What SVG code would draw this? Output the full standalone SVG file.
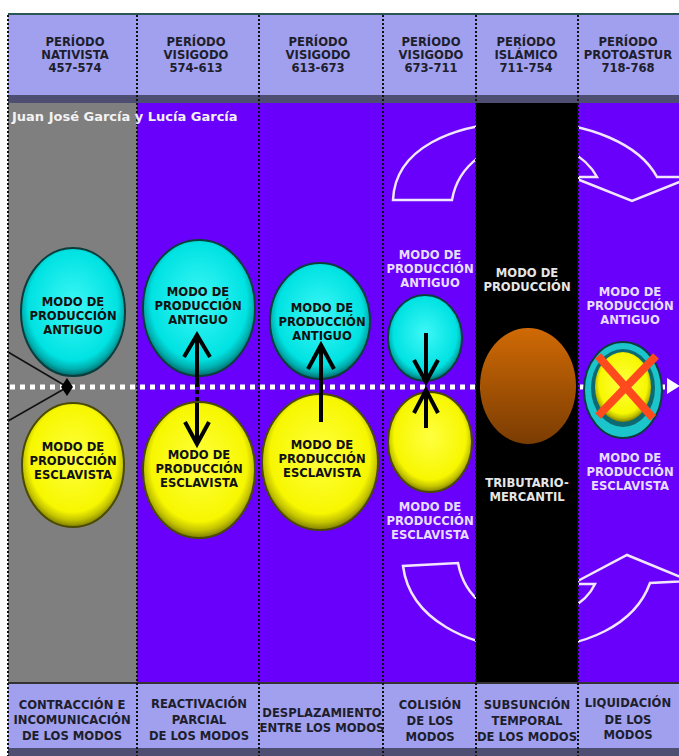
<svg xmlns="http://www.w3.org/2000/svg" width="679" height="756" viewBox="0 0 679 756">
<defs>
<radialGradient id="gCyan" cx="50%" cy="45%" r="55%">
<stop offset="0" stop-color="#3ff7f7"/><stop offset="0.78" stop-color="#00e2e2"/><stop offset="0.9" stop-color="#00b0b0"/><stop offset="1" stop-color="#006a6a"/>
</radialGradient>
<radialGradient id="gYel" cx="50%" cy="45%" r="55%">
<stop offset="0" stop-color="#ffff40"/><stop offset="0.78" stop-color="#f7f700"/><stop offset="0.9" stop-color="#c4c400"/><stop offset="1" stop-color="#7e7e00"/>
</radialGradient>
<linearGradient id="gBrown" x1="0" y1="0" x2="0" y2="1">
<stop offset="0" stop-color="#d06a05"/><stop offset="1" stop-color="#7a3c02"/>
</linearGradient>
<style>
.t{font-family:"DejaVu Sans",Verdana,sans-serif;font-weight:bold;font-size:11.6px;text-anchor:middle}
.hd{fill:#1e1e2c}
.bk{fill:#111}
.lt{fill:#e9ddff}
.wt{fill:#e6e6e6}
.sep{stroke:#111;stroke-width:2;stroke-dasharray:2 2}
.cy{fill:url(#gCyan);stroke:#0b3d3d;stroke-width:2}
.ye{fill:url(#gYel);stroke:#4a4a00;stroke-width:2}
.ar{stroke:#000;stroke-width:4;fill:none;stroke-linejoin:miter}
.cu{fill:none;stroke:#f2e6ff;stroke-width:2.5;stroke-linejoin:miter}
</style>
</defs>
<rect x="0" y="0" width="679" height="756" fill="#fff"/>
<!-- content backgrounds -->
<rect x="8" y="103" width="129" height="580" fill="#7f7f7f"/>
<rect x="137" y="103" width="542" height="580" fill="#6800fc"/>
<!-- curved arrows (behind black column) -->
<path class="cu" d="M393,200 C395,150 450,122 527,122 C590,122 640,145 657,177 L692,177 L632,201 L572,177 L597,177 C585,155 560,142 527,142 C490,142 458,165 452,200 Z"/>
<path class="cu" d="M403,566 C410,620 470,648 527,648 C585,648 635,625 650,583 L690,581 L627,555 L572,584 L595,584 C585,605 560,618 527,618 C495,618 465,600 458,563 Z"/>
<rect x="476" y="103" width="102" height="580" fill="#000"/>
<!-- header -->
<rect x="8" y="13" width="671" height="2" fill="#2a5656"/>
<rect x="8" y="15" width="671" height="80" fill="#a0a0ef"/>
<rect x="8" y="95" width="671" height="8" fill="#4e4e72"/>
<!-- footer -->
<rect x="8" y="682" width="671" height="2" fill="#333"/>
<rect x="8" y="684" width="671" height="64" fill="#a0a0ef"/>
<rect x="8" y="748" width="671" height="8" fill="#4e4e72"/>
<!-- separators -->
<g>
<line class="sep" x1="8" y1="15" x2="8" y2="756"/>
<line class="sep" x1="137" y1="15" x2="137" y2="756"/>
<line class="sep" x1="259" y1="15" x2="259" y2="756"/>
<line class="sep" x1="383" y1="15" x2="383" y2="756"/>
<line class="sep" x1="476" y1="15" x2="476" y2="756"/>
<line class="sep" x1="578" y1="15" x2="578" y2="756"/>
</g>
<!-- header texts -->
<g id="h1" class="t hd"><text x="75" y="46">PERÍODO</text><text x="75" y="59">NATIVISTA</text><text x="75" y="72">457-574</text></g>
<g id="h2" class="t hd"><text x="196" y="46">PERÍODO</text><text x="196" y="59">VISIGODO</text><text x="196" y="72">574-613</text></g>
<g id="h3" class="t hd"><text x="318" y="46">PERÍODO</text><text x="318" y="59">VISIGODO</text><text x="318" y="72">613-673</text></g>
<g id="h4" class="t hd"><text x="431" y="46">PERÍODO</text><text x="431" y="59">VISIGODO</text><text x="431" y="72">673-711</text></g>
<g id="h5" class="t hd"><text x="526" y="46">PERÍODO</text><text x="526" y="59">ISLÁMICO</text><text x="526" y="72">711-754</text></g>
<g id="h6" class="t hd"><text x="628" y="46">PERÍODO</text><text x="628" y="59">PROTOASTUR</text><text x="628" y="72">718-768</text></g>
<!-- footer texts -->
<g id="f1" class="t hd"><text x="72" y="709">CONTRACCIÓN E</text><text x="72" y="724">INCOMUNICACIÓN</text><text x="72" y="740">DE LOS MODOS</text></g>
<g id="f2" class="t hd"><text x="199" y="708">REACTIVACIÓN</text><text x="199" y="724">PARCIAL</text><text x="199" y="740">DE LOS MODOS</text></g>
<g id="f3" class="t hd"><text x="322" y="717">DESPLAZAMIENTO</text><text x="322" y="732">ENTRE LOS MODOS</text></g>
<g id="f4" class="t hd"><text x="430" y="709">COLISIÓN</text><text x="430" y="725">DE LOS</text><text x="430" y="741">MODOS</text></g>
<g id="f5" class="t hd"><text x="527" y="709">SUBSUNCIÓN</text><text x="527" y="725">TEMPORAL</text><text x="527" y="741">DE LOS MODOS</text></g>
<g id="f6" class="t hd"><text x="628" y="707">LIQUIDACIÓN</text><text x="628" y="724">DE LOS</text><text x="628" y="739">MODOS</text></g>
<!-- title -->
<text x="12" y="121" font-family="'DejaVu Sans',Verdana,sans-serif" font-weight="bold" font-size="13" fill="#f2f2f2">Juan José García y Lucía García</text>
<!-- dotted axis -->
<line x1="10" y1="387" x2="666" y2="387" stroke="#fff" stroke-width="5" stroke-dasharray="5 5"/>
<polygon points="667,378 680,386 667,394" fill="#fff"/>
<!-- column 1 -->
<g id="c1a"><ellipse class="cy" cx="73" cy="312" rx="52" ry="64"/><g class="t bk"><text x="73" y="306">MODO DE</text><text x="73" y="320">PRODUCCIÓN</text><text x="73" y="334">ANTIGUO</text></g></g>
<g id="c1b"><ellipse class="ye" cx="73" cy="465" rx="51" ry="62"/><g class="t bk"><text x="73" y="451">MODO DE</text><text x="73" y="465">PRODUCCIÓN</text><text x="73" y="479">ESCLAVISTA</text></g></g>
<!-- column 2 -->
<g id="c2a"><ellipse class="cy" cx="199" cy="308" rx="56" ry="68"/><g class="t bk"><text x="198" y="296">MODO DE</text><text x="198" y="310">PRODUCCIÓN</text><text x="198" y="324">ANTIGUO</text></g></g>
<g id="c2b"><ellipse class="ye" cx="199" cy="470" rx="56" ry="68"/><g class="t bk"><text x="199" y="459">MODO DE</text><text x="199" y="473">PRODUCCIÓN</text><text x="199" y="487">ESCLAVISTA</text></g></g>
<!-- column 3 -->
<g id="c3a"><ellipse class="cy" cx="320" cy="321" rx="50" ry="58"/><g class="t bk"><text x="322" y="312">MODO DE</text><text x="322" y="326">PRODUCCIÓN</text><text x="322" y="340">ANTIGUO</text></g></g>
<g id="c3b"><ellipse class="ye" cx="320" cy="462" rx="58" ry="68"/><g class="t bk"><text x="322" y="449">MODO DE</text><text x="322" y="463">PRODUCCIÓN</text><text x="322" y="477">ESCLAVISTA</text></g></g>
<!-- column 4 -->
<g id="c4a"><ellipse class="cy" cx="425" cy="338" rx="37" ry="43"/><g class="t lt"><text x="430" y="259">MODO DE</text><text x="430" y="273">PRODUCCIÓN</text><text x="430" y="287">ANTIGUO</text></g></g>
<g id="c4b"><ellipse class="ye" cx="430" cy="442" rx="42" ry="50"/><g class="t lt"><text x="430" y="511">MODO DE</text><text x="430" y="525">PRODUCCIÓN</text><text x="430" y="539">ESCLAVISTA</text></g></g>
<!-- column 5 -->
<g id="c5"><ellipse cx="528" cy="386" rx="48" ry="58" fill="url(#gBrown)"/><g class="t wt"><text x="527" y="277">MODO DE</text><text x="527" y="291">PRODUCCIÓN</text><text x="527" y="487">TRIBUTARIO-</text><text x="527" y="501">MERCANTIL</text></g></g>
<!-- column 6 -->
<g id="c6"><ellipse cx="623" cy="390" rx="39" ry="48" fill="#1cc4cc" stroke="#0b3d3d" stroke-width="2"/><ellipse cx="623" cy="388" rx="32" ry="39" fill="#0d6a70"/><ellipse cx="623" cy="387" rx="28" ry="35" fill="url(#gYel)" stroke="none"/>
<g stroke="#ff4a1e" stroke-width="8" stroke-linecap="butt"><line x1="598" y1="356" x2="653" y2="418"/><line x1="656" y1="356" x2="598" y2="416"/></g>
<g class="t lt"><text x="630" y="296">MODO DE</text><text x="630" y="310">PRODUCCIÓN</text><text x="630" y="324">ANTIGUO</text><text x="630" y="462">MODO DE</text><text x="630" y="476">PRODUCCIÓN</text><text x="630" y="490">ESCLAVISTA</text></g></g>
<!-- connectors -->
<g id="connectors">
<line x1="8" y1="352" x2="64" y2="385" stroke="#111" stroke-width="1.5"/>
<line x1="8" y1="421" x2="64" y2="389" stroke="#111" stroke-width="1.5"/>
<polygon points="67,378 73,387 67,396 61,387" fill="#000"/>
<line class="ar" x1="197" y1="383" x2="197" y2="336"/><polyline class="ar" points="184,357 197,335 210,357"/>
<line x1="197" y1="383" x2="197" y2="403" stroke="#000" stroke-width="4" stroke-dasharray="4 3"/>
<line class="ar" x1="197" y1="403" x2="197" y2="444"/><polyline class="ar" points="185,422 197,444 209,422"/>
<line class="ar" x1="321" y1="422" x2="321" y2="346"/><polyline class="ar" points="308,369 321,345 334,369"/>
<line class="ar" x1="426" y1="333" x2="426" y2="380"/><polyline class="ar" points="414,360 426,382 438,360"/>
<line class="ar" x1="426" y1="428" x2="426" y2="392"/><polyline class="ar" points="414,413 426,390 438,413"/>
</g>
</svg>
